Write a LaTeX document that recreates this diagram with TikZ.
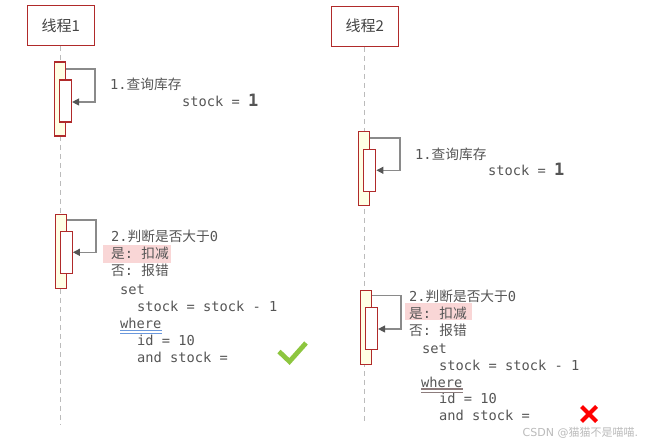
\documentclass[tikz,border=0pt]{standalone}
\usepackage{fontspec}
\setmainfont{DejaVu Sans}
\setmonofont{DejaVu Sans Mono}
\newfontfamily\cjk{Noto Sans CJK SC}
\usetikzlibrary{arrows.meta}
\definecolor{actred}{HTML}{B02A2A}
\definecolor{actfill}{HTML}{FFFFE4}
\definecolor{lifegray}{HTML}{BBBBBB}
\definecolor{msggray}{HTML}{8A8A8A}
\definecolor{tipgray}{HTML}{555555}
\definecolor{txtgray}{HTML}{555555}
\definecolor{titlegray}{HTML}{444444}
\definecolor{hlpink}{HTML}{F9D6D6}
\definecolor{ulblue}{HTML}{6A98DC}
\definecolor{ulbrown}{HTML}{8C7C7C}
\definecolor{okgreen}{HTML}{8DC63F}
\definecolor{badred}{HTML}{FF0000}
\begin{document}
\begin{tikzpicture}[x=1pt,y=-1pt,
  titlebox/.style={draw=actred, line width=1.3pt, fill=white, minimum width=67pt, minimum height=40pt, inner sep=0pt, text=titlegray, font=\cjk\fontsize{15}{18}\selectfont},
  lifeline/.style={draw=lifegray, line width=1.2pt, dash pattern=on 5pt off 4pt},
  actouter/.style={draw=actred, line width=1.2pt, fill=actfill, minimum width=11pt, minimum height=74pt, inner sep=0pt},
  actinner/.style={draw=actred, line width=1.2pt, fill=white, minimum width=12pt, minimum height=42pt, inner sep=0pt},
  selfmsg/.style={draw=msggray, line width=1.3pt, -{Triangle[length=7pt,width=7pt,color=tipgray]}},
  lbl/.style={anchor=base west, inner sep=0pt, text=txtgray, font=\ttfamily\fontsize{13.7}{16}\selectfont},
  hl/.style={fill=hlpink, draw=none},
]
\useasboundingbox (0,0) rectangle (646,443);

% participants
\node[titlebox] (t1) at (60.8,25.3) {线程1};
\node[titlebox] (t2) at (364.7,26.2) {线程2};
\coordinate (e1) at (60.8,424);
\coordinate (e2) at (364.7,424);
\draw[lifeline] (t1.south) -- (e1);
\draw[lifeline] (t2.south) -- (e2);

% activations
\node[actouter] (a1o) at (60,99) {};
\node[actinner] (a1i) at (65.5,101) {};
\node[actouter] (a2o) at (364.3,168.7) {};
\node[actinner] (a2i) at (369.8,170.2) {};
\node[actouter] (a3o) at (60.8,251.3) {};
\node[actinner] (a3i) at (66.3,252.7) {};
\node[actouter] (a4o) at (365.8,327.2) {};
\node[actinner] (a4i) at (371.5,328.3) {};

% self messages
\coordinate (m1a) at (a1o.east |- 0,69);
\coordinate (m1b) at (95,102);
\draw[selfmsg] (m1a) -| (m1b) -- (a1i.east |- m1b);
\coordinate (m2a) at (a2o.east |- 0,138);
\coordinate (m2b) at (400,170.3);
\draw[selfmsg] (m2a) -| (m2b) -- (a2i.east |- m2b);
\coordinate (m3a) at (a3o.east |- 0,220);
\coordinate (m3b) at (96,252.3);
\draw[selfmsg] (m3a) -| (m3b) -- (a3i.east |- m3b);
\coordinate (m4a) at (a4o.east |- 0,295.7);
\coordinate (m4b) at (401,329);
\draw[selfmsg] (m4a) -| (m4b) -- (a4i.east |- m4b);

% highlights
\path[hl] (103,244.7) rectangle (171,262.7);
\path[hl] (405.3,303.3) rectangle (472.3,320);

% texts thread 1
\node[lbl] (q1) at (110,90) {1.{\cjk 查询库存}};
\node[lbl] (s1) at (182,107) {stock = {\fontsize{17}{17}\selectfont\bfseries 1}};
\node[lbl] (j1) at (111,242) {2.{\cjk 判断是否大于}0};
\node[lbl] (y1) at (111,259) {{\cjk 是}: {\cjk 扣减}};
\node[lbl] (n1) at (111,275.5) {{\cjk 否}: {\cjk 报错}};
\node[lbl] (c1a) at (120,295) {set};
\node[lbl] (c1b) at (137,312) {stock = stock - 1};
\node[lbl] (c1c) at (120,329) {where};
\node[lbl] (c1d) at (137,345.7) {id = 10};
\node[lbl] (c1e) at (137,362.3) {and stock =};
\draw[ulblue, line width=0.9pt] (c1c.west |- 0,330.7) -- (c1c.east |- 0,330.7);
\draw[ulblue, line width=0.9pt] (c1c.west |- 0,333.2) -- (c1c.east |- 0,333.2);

% texts thread 2
\node[lbl] (q2) at (415,160) {1.{\cjk 查询库存}};
\node[lbl] (s2) at (488,175.7) {stock = {\fontsize{17}{17}\selectfont\bfseries 1}};
\node[lbl] (j2) at (409,301.7) {2.{\cjk 判断是否大于}0};
\node[lbl] (y2) at (409,319) {{\cjk 是}: {\cjk 扣减}};
\node[lbl] (n2) at (409,335.7) {{\cjk 否}: {\cjk 报错}};
\node[lbl] (c2a) at (422,354) {set};
\node[lbl] (c2b) at (439,370.7) {stock = stock - 1};
\node[lbl] (c2c) at (421,387.3) {where};
\node[lbl] (c2d) at (439,404) {id = 10};
\node[lbl] (c2e) at (439,420.7) {and stock =};
\draw[ulbrown, line width=1.6pt] (c2c.west |- 0,389.2) -- (c2c.east |- 0,389.2);
\draw[ulbrown, line width=1.6pt] (c2c.west |- 0,392.4) -- (c2c.east |- 0,392.4);

% marks
\draw[okgreen, line width=4.8pt] (279,351.5) -- (289.5,361.5) -- (306,343);
\draw[badred, line width=4pt] (581.5,406.5) -- (596.5,421.5);
\draw[badred, line width=4pt] (596.5,406.5) -- (581.5,421.5);

% watermark
\node[anchor=base west, inner sep=0pt, text=lifegray, font=\fontsize{11}{13}\selectfont] (wm) at (522.5,436.5) {CSDN @{\cjk 猫猫不是喵喵}.};
\end{tikzpicture}
\end{document}
